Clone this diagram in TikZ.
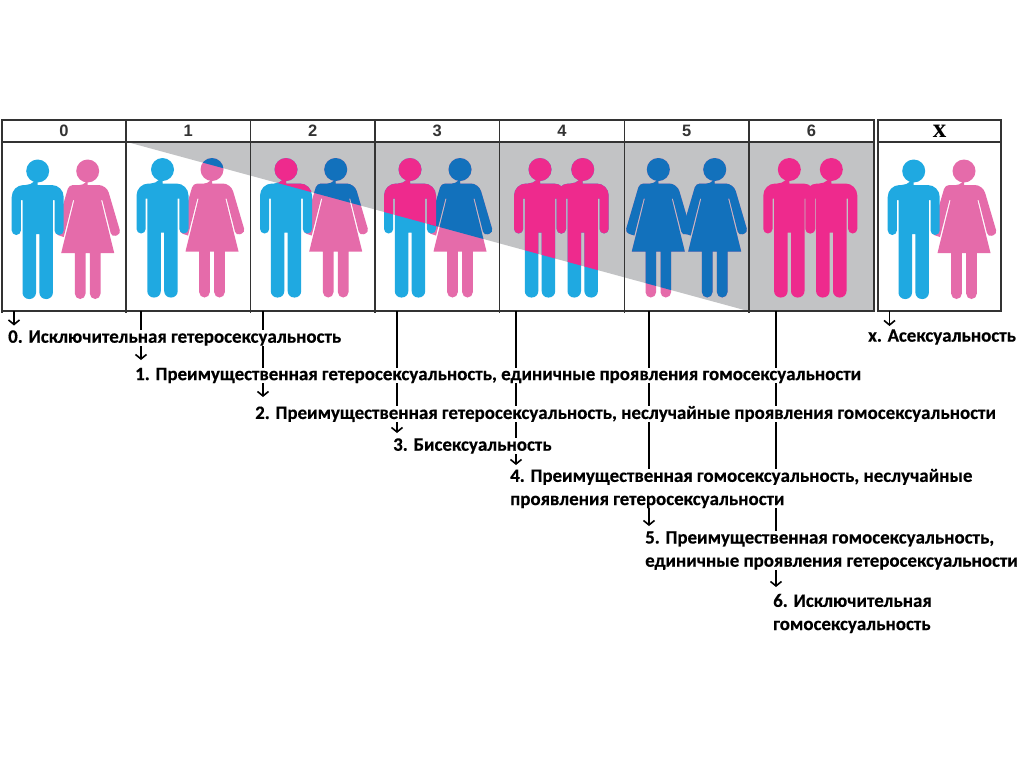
\documentclass[tikz,border=0pt]{standalone}
\usepackage{fontspec}
\setmainfont{Carlito}[BoldFeatures={FakeBold=0.4}]
\newfontfamily\digitfont{Liberation Sans}
\newfontfamily\xfont{Liberation Serif}
\usetikzlibrary{arrows.meta}
\definecolor{cblue}{HTML}{1FA9E1}
\definecolor{cpink}{HTML}{E56BAA}
\definecolor{chot}{HTML}{EE2A8D}
\definecolor{cdark}{HTML}{1271BC}
\definecolor{cgray}{HTML}{C2C3C5}
\definecolor{cgrid}{HTML}{333333}
\newcommand{\manfig}[3]{%
 \begin{scope}[shift={(#1,#2)}]
 \fill[#3] (0,0) circle (11.5pt);
 \fill[#3] (0,14) [rounded corners=12pt] -- (26,14) [rounded corners=4.6pt] -- (26,64) -- (16.8,64) [sharp corners] -- (16.8,29) -- (15.2,29) [rounded corners=6.4pt] -- (15.2,128) -- (1.7,128) [sharp corners] -- (1.7,63) -- (-1.7,63) [rounded corners=6.4pt] -- (-1.7,128) -- (-15.2,128) [sharp corners] -- (-15.2,29) -- (-16.8,29) [rounded corners=4.6pt] -- (-16.8,64) -- (-26,64) [rounded corners=12pt] -- (-26,14) -- (0,14) [sharp corners] -- cycle;
 \end{scope}}
\newcommand{\womanfig}[3]{%
 \begin{scope}[shift={(#1,#2)}]
 \fill[#3] (0,0) circle (11.5pt);
 \fill[#3] (0,14) [rounded corners=8pt] -- (18.8,14) [rounded corners=4pt] -- (33.2,63) -- (24,66) [sharp corners] -- (14.6,29) -- (13.4,29) -- (26.5,82) -- (12.8,82) [rounded corners=5.3pt] -- (12.8,128) -- (2.2,128) [sharp corners] -- (2.2,82) -- (-2.2,82) [rounded corners=5.3pt] -- (-2.2,128) -- (-12.8,128) [sharp corners] -- (-12.8,82) -- (-26.5,82) -- (-13.4,29) -- (-14.6,29) -- (-24,66) [rounded corners=4pt] -- (-33.2,63) -- (-18.8,14) [rounded corners=8pt] -- (0,14) [sharp corners] -- cycle;
 \end{scope}}
\tikzset{
 x=1pt,y=-1pt,
 headcell/.style={draw=cgrid,line width=1.8pt,outer sep=0pt,minimum height=22pt,inner sep=0pt,text=cgrid,font=\digitfont\bfseries\fontsize{16.5}{18}\selectfont},
 bodycell/.style={draw=cgrid,line width=1.8pt,outer sep=0pt,inner sep=0pt},
 link/.style={draw=black,line width=1.9pt,-{Straight Barb[length=4.5pt,width=11pt,line width=1.6pt]}},
 lab/.style={anchor=west,fill=white,inner xsep=0pt,inner ysep=0pt,align=left,font=\bfseries\fontsize{18.9}{23.2}\selectfont,text=black}
}
\begin{document}
\begin{tikzpicture}
\useasboundingbox (0,0) rectangle (1022,766);
\fill[white] (0,0) rectangle (1022,766);
% grey wedge
\fill[cgray] (127,142) -- (748,311) -- (874,311) -- (874,142) -- cycle;
% figures, lower colours
\womanfig{87.7}{171}{cpink}\manfig{37.7}{171}{cblue}
\womanfig{212}{169.5}{cpink}\manfig{162.5}{169.5}{cblue}
\womanfig{335.7}{169.5}{cpink}\manfig{286}{169.5}{cblue}
\womanfig{460}{169.5}{cpink}\manfig{410}{169.5}{cblue}
\manfig{540}{169.5}{cblue}\manfig{582.7}{169.5}{cblue}
\womanfig{658.3}{169.5}{cpink}\womanfig{714.7}{169.5}{cpink}
\manfig{789.3}{169.5}{chot}\manfig{831.3}{169.5}{chot}
\womanfig{964}{171}{cpink}\manfig{913.7}{171}{cblue}
% figures, part over the diagonal
\begin{scope}
 \clip (127,142) -- (748,311) -- (874,311) -- (874,142) -- cycle;
 \womanfig{212}{169.5}{cdark}\manfig{162.5}{169.5}{cblue}
 \womanfig{335.7}{169.5}{cdark}\manfig{286}{169.5}{chot}
 \womanfig{460}{169.5}{cdark}\manfig{410}{169.5}{chot}
 \manfig{540}{169.5}{chot}\manfig{582.7}{169.5}{chot}
 \womanfig{658.3}{169.5}{cdark}\womanfig{714.7}{169.5}{cdark}
\end{scope}
% grid
\foreach \n/\l/\r/\t in {0/2/126/0,1/126/250.5/1,2/250.5/375/2,3/375/499.5/3,4/499.5/624.5/4,5/624.5/749/5,6/749/874/6}{
 \node[headcell,minimum width={\r-\l},anchor=north west] (h\n) at (\l,120) {\t};
 \node[bodycell,minimum width={\r-\l},minimum height=169pt,anchor=north west] (p\n) at (\l,142) {};
 \draw[cgrid,line width=1.8pt] (p\n.south west) -- ++(0,2);
}
\node[headcell,minimum width=123pt,anchor=north west,text=black,font=\xfont\bfseries\fontsize{27}{27}\selectfont] (hx) at (878,120) {\raisebox{-2.5pt}{x}};
\node[bodycell,minimum width=123pt,minimum height=169pt,anchor=north west] (px) at (878,142) {};
% connector free ends
\coordinate (e0) at (14,325.5);
\coordinate (e1) at (141,360);
\coordinate (e2) at (263,397);
\coordinate (e3) at (397,433);
\coordinate (e4) at (516,465);
\coordinate (e5) at (649,526);
\coordinate (e6) at (776,587);
\coordinate (ex) at (889.5,326);
\draw[link] (e0 |- p0.south) -- (e0);
\draw[link] (e1 |- p1.south) -- (e1);
\draw[link] (e2 |- p2.south) -- (e2);
\draw[link] (e3 |- p3.south) -- (e3);
\draw[link] (e4 |- p4.south) -- (e4);
\draw[link] (e5 |- p5.south) -- (e5);
\draw[link] (e6 |- p6.south) -- (e6);
\draw[link] (ex |- px.south) -- (ex);
% labels
\node[lab] (t0) at (8,338) {0. Исключительная гетеросексуальность};
\node[lab] (tx) at (868,337) {x. Асексуальность};
\node[lab] (t1) at (135,375.5) {1. Преимущественная гетеросексуальность, единичные проявления гомосексуальности};
\node[lab] (t2) at (255,414) {2. Преимущественная гетеросексуальность, неслучайные проявления гомосексуальности};
\node[lab] (t3) at (393,446) {3. Бисексуальность};
\node[lab] (t4) at (510,488.5) {4. Преимущественная гомосексуальность, неслучайные\\проявления гетеросексуальности};
\node[lab] (t5) at (645,550.5) {5. Преимущественная гомосексуальность,\\единичные проявления гетеросексуальности};
\node[lab] (t6) at (773,613.5) {6. Исключительная\\гомосексуальность};
\end{tikzpicture}
\end{document}
